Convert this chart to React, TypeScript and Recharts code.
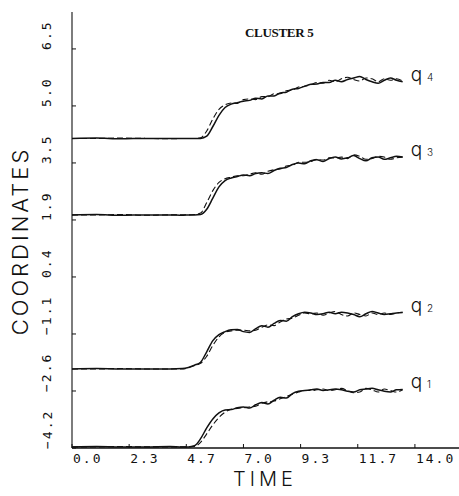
import React from 'react'
import { LineChart, Line, XAxis, YAxis, LabelList } from 'recharts'

// sample times (shared by every series)
const times = [
  0, 1, 2, 3, 4, 4.5, 4.75, 5, 5.25, 5.5, 5.75, 6, 6.25, 6.5, 6.75, 7, 7.25, 7.5, 7.75, 8,
  8.25, 8.5, 8.75, 9, 9.25, 9.5, 9.75, 10, 10.25, 10.5, 10.75, 11, 11.25, 11.5, 11.75, 12,
  12.25, 12.5, 12.75, 13, 13.25, 13.5,
]

const q4Solid = [
  4.10, 4.11, 4.09, 4.10, 4.10, 4.10, 4.10,
  4.10, 4.10, 4.16, 4.42, 4.72, 4.93, 5.02, 5.06, 5.10, 5.12, 5.18, 5.16, 5.24, 5.24, 5.32, 5.34,
  5.42, 5.44, 5.50, 5.55, 5.56, 5.60, 5.60, 5.66, 5.62, 5.68, 5.72, 5.76, 5.68, 5.62, 5.58, 5.66,
  5.72, 5.66, 5.62,
]
const q4Dashed = [
  4.10, 4.10, 4.11, 4.10, 4.09, 4.10, 4.10,
  4.10, 4.12, 4.30, 4.62, 4.88, 5.00, 5.05, 5.04, 5.14, 5.16, 5.14, 5.22, 5.22, 5.30, 5.30, 5.38,
  5.40, 5.48, 5.50, 5.54, 5.60, 5.58, 5.66, 5.62, 5.70, 5.74, 5.68, 5.64, 5.72, 5.70, 5.62, 5.70,
  5.66, 5.70, 5.64,
]
const q3Solid = [
  2.05, 2.06, 2.04, 2.05, 2.05, 2.04, 2.05,
  2.05, 2.06, 2.20, 2.50, 2.80, 2.97, 3.04, 3.08, 3.12, 3.10, 3.16, 3.18, 3.16, 3.24, 3.30, 3.32,
  3.40, 3.44, 3.42, 3.50, 3.53, 3.48, 3.56, 3.60, 3.55, 3.58, 3.64, 3.56, 3.50, 3.58, 3.60, 3.54,
  3.58, 3.62, 3.60,
]
const q3Dashed = [
  2.05, 2.05, 2.06, 2.04, 2.05, 2.05, 2.05,
  2.06, 2.10, 2.38, 2.70, 2.92, 3.02, 3.06, 3.10, 3.10, 3.14, 3.18, 3.14, 3.22, 3.26, 3.28, 3.36,
  3.38, 3.46, 3.46, 3.48, 3.54, 3.52, 3.58, 3.58, 3.60, 3.56, 3.66, 3.62, 3.54, 3.56, 3.62, 3.60,
  3.54, 3.58, 3.60,
]
const q2Solid = [
  -2.08, -2.07, -2.08, -2.08, -2.08, -2.07, -2.04,
  -1.98, -1.90, -1.62, -1.32, -1.16, -1.08, -1.03, -1.02, -1.08, -1.10, -1.00, -0.92, -0.96, -0.86,
  -0.78, -0.80, -0.68, -0.60, -0.56, -0.58, -0.62, -0.60, -0.56, -0.60, -0.56, -0.58, -0.62, -0.68,
  -0.60, -0.54, -0.58, -0.62, -0.60, -0.58, -0.57,
]
const q2Dashed = [
  -2.08, -2.08, -2.07, -2.08, -2.08, -2.08, -2.05,
  -1.99, -1.93, -1.74, -1.45, -1.22, -1.10, -1.06, -1.04, -1.04, -1.06, -1.04, -0.96, -0.90, -0.92,
  -0.82, -0.74, -0.72, -0.64, -0.58, -0.60, -0.58, -0.64, -0.58, -0.54, -0.62, -0.66, -0.58, -0.62,
  -0.66, -0.58, -0.62, -0.58, -0.62, -0.58, -0.56,
]
const q1Solid = [
  -4.17, -4.16, -4.17, -4.17, -4.16, -4.17, -4.17,
  -4.14, -3.95, -3.66, -3.42, -3.26, -3.18, -3.17, -3.12, -3.10, -3.13, -3.04, -2.98, -3.02, -2.92,
  -2.84, -2.86, -2.74, -2.68, -2.66, -2.64, -2.62, -2.66, -2.64, -2.62, -2.64, -2.68, -2.70, -2.64,
  -2.62, -2.60, -2.64, -2.68, -2.70, -2.64, -2.63,
]
const q1Dashed = [
  -4.17, -4.17, -4.16, -4.17, -4.17, -4.17, -4.17,
  -4.16, -4.05, -3.82, -3.58, -3.38, -3.24, -3.16, -3.14, -3.12, -3.10, -3.08, -3.00, -2.96, -2.94,
  -2.88, -2.82, -2.76, -2.70, -2.66, -2.66, -2.64, -2.62, -2.66, -2.64, -2.60, -2.66, -2.72, -2.70,
  -2.60, -2.64, -2.70, -2.62, -2.66, -2.70, -2.64,
]

// axis ticks
const xTicks = [0, 14 / 6, 28 / 6, 7, 56 / 6, 70 / 6, 14]
const xTickLabels = ['0.0', '2.3', '4.7', '7.0', '9.3', '11.7', '14.0']
const yTicks = [0, 1, 2, 3, 4, 5, 6, 7].map((i) => -4.2 + (i * 10.7) / 7)
const yTickLabels = ['\u22124.2', '\u22122.6', '\u22121.1', '0.4', '1.9', '3.5', '5.0', '6.5']

const data = times.map((t, i) => ({
  t,
  q1s: q1Solid[i],
  q1d: q1Dashed[i],
  q2s: q2Solid[i],
  q2d: q2Dashed[i],
  q3s: q3Solid[i],
  q3d: q3Dashed[i],
  q4s: q4Solid[i],
  q4d: q4Dashed[i],
}))

const MONO = '"DejaVu Sans Mono", monospace'
const THIN = 'Inter, "DejaVu Sans", sans-serif'
const INK = '#111'

const XTick = (props: any) => {
  const { x, y, index } = props
  return (
    <g>
      <line x1={x} y1={y} x2={x} y2={y - 4} stroke={INK} strokeWidth={1} />
      <text x={x + 1} y={y + 15} fontFamily={MONO} fontSize={13} letterSpacing={2} fill={INK}>
        {xTickLabels[index]}
      </text>
    </g>
  )
}

const YTick = (props: any) => {
  const { x, y, index } = props
  const tx = x - 25
  const ty = y + 1
  return (
    <g>
      <line x1={x} y1={y} x2={x + 4} y2={y} stroke={INK} strokeWidth={1} />
      <text
        x={tx}
        y={ty}
        transform={`rotate(-90 ${tx} ${ty})`}
        textAnchor="start"
        dominantBaseline="central"
        fontFamily={MONO}
        fontSize={13}
        letterSpacing={2}
        fill={INK}
      >
        {yTickLabels[index]}
      </text>
    </g>
  )
}

// "q n" tag at the end of each solid curve
const endTag = (n: string) => (props: any) => {
  const { x, y, index } = props
  if (index !== times.length - 1) return null
  return (
    <text x={x + 8} y={y - 1} fontFamily={THIN} fontWeight={300} fontSize={19} fill={INK}>
      q
      <tspan fontSize={10} dx={5}>
        {n}
      </tspan>
    </text>
  )
}

const solid = { stroke: INK, strokeWidth: 1.5, dot: false, isAnimationActive: false, type: 'monotone' as const }
const dashed = { ...solid, strokeWidth: 1.1, strokeDasharray: '6 3' }

export default function App() {
  return (
    <div style={{ position: 'absolute', left: 0, top: 0, background: '#fff' }}>
      <LineChart width={459} height={496} data={data} margin={{ top: 12, right: 0, bottom: 0, left: 0 }}>
        <XAxis
          dataKey="t"
          type="number"
          domain={[0, 15.8]}
          ticks={xTicks}
          interval={0}
          height={48}
          tickSize={0}
          tickMargin={0}
          tickLine={false}
          tick={<XTick />}
          axisLine={{ stroke: INK, strokeWidth: 1.6 }}
        />
        <XAxis
          xAxisId="top"
          dataKey="t"
          type="number"
          orientation="top"
          domain={[0, 15.8]}
          height={0}
          tick={false}
          tickLine={false}
          axisLine={{ stroke: INK, strokeWidth: 1.4 }}
        />
        <YAxis
          type="number"
          domain={[-4.2, 7.49]}
          ticks={yTicks}
          interval={0}
          width={72}
          tickSize={0}
          tickMargin={0}
          tickLine={false}
          tick={<YTick />}
          axisLine={{ stroke: INK, strokeWidth: 1.1 }}
        />
        <Line dataKey="q1d" {...dashed} />
        <Line dataKey="q1s" {...solid}>
          <LabelList dataKey="q1s" content={endTag('1')} />
        </Line>
        <Line dataKey="q2d" {...dashed} />
        <Line dataKey="q2s" {...solid}>
          <LabelList dataKey="q2s" content={endTag('2')} />
        </Line>
        <Line dataKey="q3d" {...dashed} />
        <Line dataKey="q3s" {...solid}>
          <LabelList dataKey="q3s" content={endTag('3')} />
        </Line>
        <Line dataKey="q4d" {...dashed} />
        <Line dataKey="q4s" {...solid}>
          <LabelList dataKey="q4s" content={endTag('4')} />
        </Line>
        <text
          x={245}
          y={37}
          fontFamily='"Liberation Serif", serif'
          fontWeight="bold"
          fontSize={13}
          letterSpacing={-0.3}
          fill={INK}
        >
          CLUSTER 5
        </text>
        <text
          x={265}
          y={486}
          textAnchor="middle"
          fontFamily={THIN}
          fontWeight={300}
          fontSize={20}
          letterSpacing={4}
          fill={INK}
        >
          TIME
        </text>
        <text
          x={20}
          y={241}
          transform="rotate(-90 20 241)"
          textAnchor="middle"
          dominantBaseline="central"
          fontFamily={THIN}
          fontWeight={300}
          fontSize={22}
          letterSpacing={3}
          fill={INK}
        >
          COORDINATES
        </text>
      </LineChart>
    </div>
  )
}
